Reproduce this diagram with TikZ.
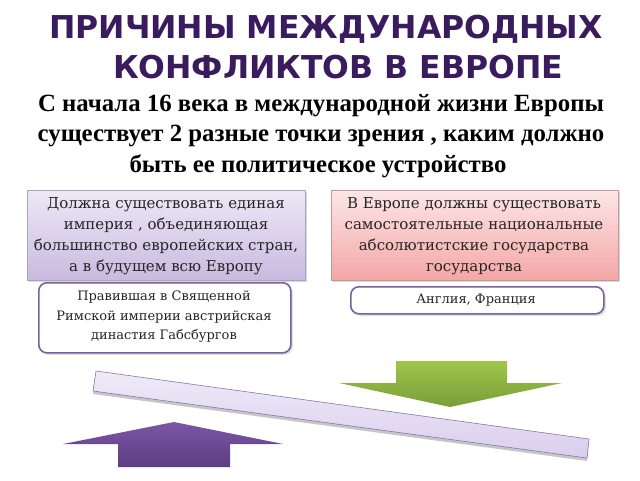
\documentclass[tikz,border=0pt]{standalone}
\usepackage{fontspec}
\setmainfont{DejaVu Serif}
\newfontfamily\titlefont{DejaVu Sans}
\newfontfamily\subfont{Liberation Serif}
\usetikzlibrary{shadows}
\definecolor{titlecol}{RGB}{58,28,94}
\definecolor{lavtop}{RGB}{238,232,246}
\definecolor{lavbot}{RGB}{200,186,224}
\definecolor{pinktop}{RGB}{253,230,230}
\definecolor{pinkbot}{RGB}{244,166,166}
\definecolor{subborder}{RGB}{122,96,160}
\definecolor{greentop}{RGB}{160,198,76}
\definecolor{greenbot}{RGB}{122,158,56}
\definecolor{purptop}{RGB}{124,86,164}
\definecolor{purpbot}{RGB}{92,62,130}
\definecolor{bartop}{RGB}{240,234,248}
\definecolor{barbot}{RGB}{218,206,238}
\definecolor{barline}{RGB}{136,120,168}
\tikzset{
  titletext/.style={font=\titlefont\bfseries\fontsize{31.5}{36}\selectfont, text=titlecol, inner sep=0pt},
  subtext/.style={font=\subfont\bfseries\fontsize{24.8}{30}\selectfont, inner sep=0pt},
  bigbox/.style={draw=#1!60!gray, line width=0.8pt, minimum width=278pt, minimum height=90pt, anchor=north west,
    drop shadow={shadow xshift=2pt, shadow yshift=-2pt, fill=gray!60}},
  boxtext/.style={font=\fontsize{15}{21}\selectfont, text=black!85, align=center, inner sep=0pt},
  smallbox/.style={draw=subborder, line width=1.6pt, fill=white, rounded corners=8pt, anchor=north west,
    drop shadow={shadow xshift=2pt, shadow yshift=-2pt, fill=gray!50}},
  smalltext/.style={font=\fontsize{13}{19.5}\selectfont, text=black!85, align=center, inner sep=0pt},
}
\begin{document}
\begin{tikzpicture}[x=1pt,y=-1pt]
\useasboundingbox (0,0) rectangle (640,480);
\fill[white] (0,0) rectangle (640,480);
% title
\node[titletext] (t1) at (326,29) {ПРИЧИНЫ МЕЖДУНАРОДНЫХ};
\node[titletext] (t2) at (338,67) {КОНФЛИКТОВ В ЕВРОПЕ};
% subtitle
\node[subtext] (s1) at (321,106) {С начала 16 века в международной жизни Европы};
\node[subtext] (s2) at (321,136) {существует 2 разные точки зрения , каким должно};
\node[subtext] (s3) at (318,166) {быть ее политическое устройство};
% big boxes
\node[bigbox=lavbot, top color=lavtop, bottom color=lavbot] (lb) at (27,190) {};
\node[boxtext] (lbt) at (166,236) {Должна существовать единая\\империя , объединяющая\\большинство европейских стран,\\а в будущем всю Европу};
\node[bigbox=pinkbot, top color=pinktop, bottom color=pinkbot, minimum width=287pt] (rb) at (331,190) {};
\node[boxtext] (rbt) at (474,236) {В Европе должны существовать\\самостоятельные национальные\\абсолютистские государства\\государства};
% small boxes
\node[smallbox, minimum width=252pt, minimum height=70pt] (ls) at (38,282) {};
\node[smalltext] (lst) at (164,317) {Правившая в Священной\\Римской империи австрийская\\династия Габсбургов};
\node[smallbox, minimum width=253pt, minimum height=27pt] (rs) at (350,286) {};
\node[smalltext] (rst) at (476,300) {Англия, Франция};
% beam
\fill[gray!45] (96,374)--(589,442)--(587,461)--(93,394)--cycle;
\shade[top color=bartop, bottom color=barbot, draw=barline, line width=0.6pt]
  (96,371)--(589,439)--(587,458)--(93,391)--cycle;
% green arrow (down)
\shade[top color=greentop, bottom color=greenbot]
  (396,361)--(507,361)--(507,383)--(562,383)--(450,407)--(339,383)--(396,383)--cycle;
% purple arrow (up)
\shade[top color=purptop, bottom color=purpbot]
  (174,422)--(283,444)--(230,444)--(230,467)--(118,467)--(118,444)--(63,444)--cycle;
\end{tikzpicture}
\end{document}
